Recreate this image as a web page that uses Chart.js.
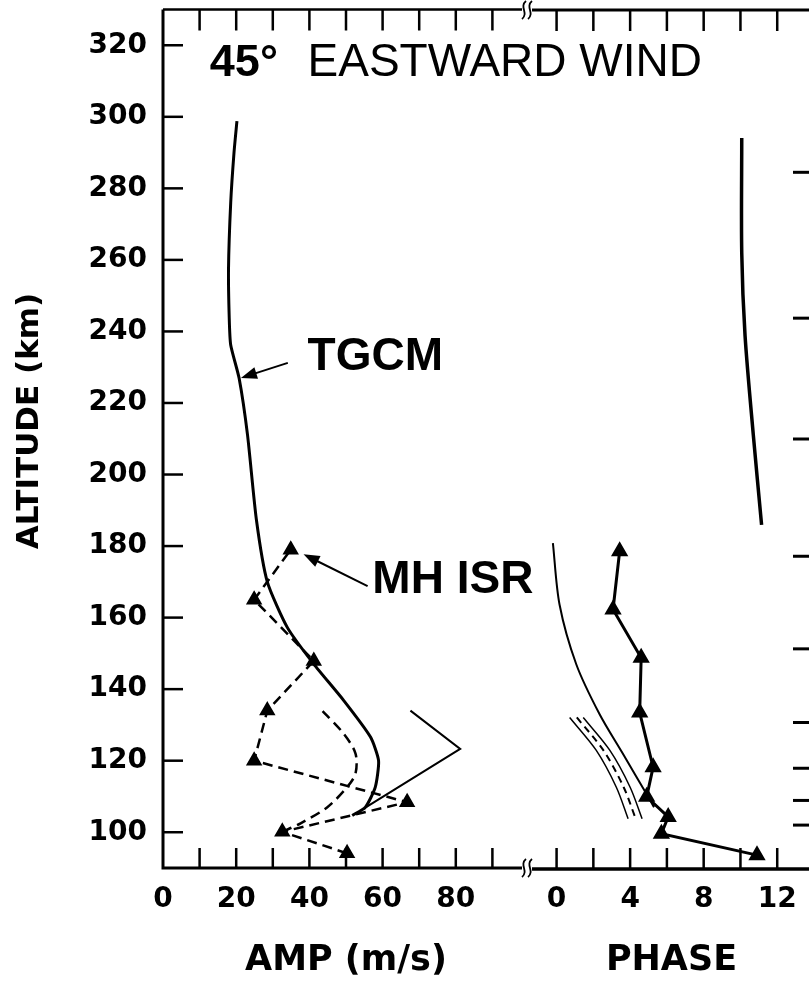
<!DOCTYPE html>
<html>
<head>
<meta charset="utf-8">
<script src="https://cdn.jsdelivr.net/npm/chart.js@4.4.1/dist/chart.umd.min.js"></script>
<style>
  html, body { margin: 0; padding: 0; background: #fff; width: 809px; height: 982px; overflow: hidden; }
  #left { position: absolute; left: 0; top: 0; }
  #right { position: absolute; left: 500px; top: 0; }
</style>
</head>
<body>
<canvas id="left" width="809" height="982"></canvas>
<canvas id="right" width="330" height="982"></canvas>
<script>
// axis ticks
const yTicks = [100, 120, 140, 160, 180, 200, 220, 240, 260, 280, 300, 320];
const ampTicks = [10, 20, 30, 40, 50, 60, 70, 80, 90];
const ampLabels = [0, 20, 40, 60, 80];
const phaseTicks = [0, 2, 4, 6, 8, 10, 12];
const phaseLabels = [0, 4, 8, 12];
const rightAltTicks = [102, 108.9, 117.9, 130.7, 151.3, 177.2, 210, 243.8, 284.6];

// AMP panel (m/s vs km)
const tgcmAmpAlt = [104.7, 107, 112.6, 120, 126.6, 136.8, 147, 157.2, 170, 187.5, 211, 226.9, 236.2, 243.6, 257.5, 276, 290, 298.8];
const tgcmAmp    = [51.7, 55.3, 58, 58.9, 56.7, 49.4, 41.2, 34, 28.5, 25.5, 23.1, 20.8, 18.5, 18.1, 17.9, 18.5, 19.4, 20.2];
const thinAmpAlt = [107, 123.3, 134];
const thinAmp    = [55.5, 81.2, 67.6];
const isrAmpAlt  = [94.1, 100.1, 108.4, 120, 134, 147.9, 165, 179];
const isrAmp     = [50.3, 32.6, 66.7, 24.9, 28.5, 41.2, 24.9, 34.9];
const dashAmpAlt = [100.1, 102.5, 107, 112.6, 116.4, 122, 127.5, 134];
const dashAmp    = [32.6, 37.6, 44.9, 50.3, 52.6, 52.6, 49.4, 43.5];

// PHASE panel
const isrPhaseAlt  = [93.6, 99.6, 104.3, 109.9, 118.2, 133.5, 148.8, 162.3, 178.6];
const isrPhase     = [10.9, 5.7, 6.07, 4.9, 5.25, 4.52, 4.6, 3.07, 3.43];
const tgcmPhaseAlt = [107, 109.9, 122, 133, 147, 163.7, 180.9];
const tgcmPhase    = [5.3, 4.98, 3.6, 2.34, 1.07, 0.16, -0.2];
const upperPhaseAlt = [186, 211.1, 238.9, 262.1, 294.2];
const upperPhase    = [11.15, 10.7, 10.25, 10.07, 10.07];
const bandAlt    = [132.1, 122.9, 112.6, 103.8];
const bandA      = [0.71, 2.16, 3.25, 3.89];
const bandDash   = [1.1, 2.55, 3.65, 4.3];
const bandB      = [1.45, 2.9, 4.0, 4.65];

const pts = (xs, ys) => xs.map((v, i) => ({ x: v, y: ys[i] }));

const tickFont = { family: 'DejaVu Sans', weight: 'bold', size: 28 };
const titleFont = { family: 'DejaVu Sans', weight: 'bold', size: 35 };

function arrow(ctx, x1, y1, x2, y2) {
  const ang = Math.atan2(y2 - y1, x2 - x1);
  ctx.lineWidth = 2;
  ctx.beginPath();
  ctx.moveTo(x1, y1);
  ctx.lineTo(x2 - 10 * Math.cos(ang), y2 - 10 * Math.sin(ang));
  ctx.stroke();
  ctx.beginPath();
  ctx.moveTo(x2, y2);
  ctx.lineTo(x2 - 16 * Math.cos(ang) + 6 * Math.sin(ang), y2 - 16 * Math.sin(ang) - 6 * Math.cos(ang));
  ctx.lineTo(x2 - 16 * Math.cos(ang) - 6 * Math.sin(ang), y2 - 16 * Math.sin(ang) + 6 * Math.cos(ang));
  ctx.closePath();
  ctx.fill();
}

const leftDecor = {
  id: 'leftDecor',
  afterDraw(chart) {
    const { ctx, chartArea: a, scales: { x, y } } = chart;
    ctx.save();
    ctx.strokeStyle = '#000';
    ctx.fillStyle = '#000';
    // frame
    ctx.lineWidth = 3;
    ctx.beginPath();
    ctx.moveTo(a.left, a.top);
    ctx.lineTo(a.left, a.bottom);
    ctx.lineTo(a.right, a.bottom);
    ctx.stroke();
    ctx.lineWidth = 2.5;
    ctx.beginPath();
    ctx.moveTo(a.left, a.top);
    ctx.lineTo(a.right, a.top);
    ctx.stroke();
    // inward ticks
    ctx.lineWidth = 2.5;
    ampTicks.forEach(v => {
      const px = x.getPixelForValue(v);
      ctx.beginPath();
      ctx.moveTo(px, a.bottom); ctx.lineTo(px, a.bottom - 20);
      ctx.moveTo(px, a.top); ctx.lineTo(px, a.top + 21);
      ctx.stroke();
    });
    yTicks.forEach(v => {
      const py = y.getPixelForValue(v);
      ctx.beginPath();
      ctx.moveTo(a.left, py); ctx.lineTo(a.left + 20, py);
      ctx.stroke();
    });
    // y title
    ctx.save();
    ctx.translate(30, 421);
    ctx.rotate(-Math.PI / 2);
    ctx.font = 'bold 31px "DejaVu Sans"';
    ctx.textAlign = 'center';
    ctx.textBaseline = 'middle';
    ctx.fillText('ALTITUDE (km)', 0, 0);
    ctx.restore();
    // title and labels
    ctx.textBaseline = 'alphabetic';
    ctx.textAlign = 'left';
    ctx.font = 'bold 45px "Liberation Sans"';
    ctx.fillText('45°', x.getPixelForValue(12.8), y.getPixelForValue(311.4));
    ctx.font = '46px "Liberation Sans"';
    ctx.fillText('EASTWARD WIND', x.getPixelForValue(39.5), y.getPixelForValue(311.4));
    ctx.font = 'bold 46px "Liberation Sans"';
    ctx.fillText('TGCM', x.getPixelForValue(39.5), y.getPixelForValue(229.3));
    ctx.fillText('MH ISR', x.getPixelForValue(57.2), y.getPixelForValue(166.9));
    arrow(ctx, x.getPixelForValue(34.1), y.getPixelForValue(231.2), x.getPixelForValue(21.3), y.getPixelForValue(227));
    arrow(ctx, x.getPixelForValue(55.9), y.getPixelForValue(168.8), x.getPixelForValue(38.4), y.getPixelForValue(177.7));
    ctx.restore();
  }
};

function brk(ctx, cx, cy) {
  ctx.fillStyle = '#fff';
  ctx.fillRect(cx - 5, cy - 3, 10, 6);
  ctx.strokeStyle = '#000';
  ctx.lineWidth = 1.8;
  [-3, 3].forEach(dx => {
    ctx.beginPath();
    ctx.moveTo(cx + dx - 2, cy + 9);
    ctx.bezierCurveTo(cx + dx + 5, cy + 3, cx + dx - 5, cy - 3, cx + dx + 2, cy - 9);
    ctx.stroke();
  });
}

const rightDecor = {
  id: 'rightDecor',
  afterDraw(chart) {
    const { ctx, chartArea: a, scales: { x, y } } = chart;
    ctx.save();
    ctx.strokeStyle = '#000';
    ctx.lineWidth = 3.5;
    ctx.beginPath();
    ctx.moveTo(a.left, a.bottom + 1); ctx.lineTo(a.right, a.bottom + 1);
    ctx.stroke();
    ctx.lineWidth = 3;
    ctx.beginPath();
    ctx.moveTo(a.left, a.top); ctx.lineTo(a.right, a.top);
    ctx.stroke();
    ctx.lineWidth = 2.5;
    phaseTicks.forEach(v => {
      const px = x.getPixelForValue(v);
      ctx.beginPath();
      ctx.moveTo(px, a.bottom); ctx.lineTo(px, a.bottom - 20);
      ctx.moveTo(px, a.top); ctx.lineTo(px, a.top + 21);
      ctx.stroke();
    });
    ctx.lineWidth = 3;
    rightAltTicks.forEach(v => {
      const py = y.getPixelForValue(v);
      ctx.beginPath();
      ctx.moveTo(a.right - 21, py); ctx.lineTo(a.right, py);
      ctx.stroke();
    });
    brk(ctx, a.left - 2, a.top);
    brk(ctx, a.left - 2, a.bottom);
    ctx.restore();
  }
};

const noPad = s => { s.paddingTop = 0; s.paddingBottom = 0; s.paddingLeft = 0; s.paddingRight = 0; };

const commonY = {
  type: 'linear', min: 90, max: 330,
  grid: { display: false, drawTicks: false }, border: { display: false },
  afterBuildTicks: s => { s.ticks = yTicks.map(v => ({ value: v })); }
};

new Chart(document.getElementById('left'), {
  type: 'scatter',
  data: {
    datasets: [
      { data: pts(tgcmAmp, tgcmAmpAlt), showLine: true, borderColor: '#000', borderWidth: 3, pointRadius: 0, tension: 0.2 },
      { data: pts(thinAmp, thinAmpAlt), showLine: true, borderColor: '#000', borderWidth: 2, pointRadius: 0 },
      { data: pts(dashAmp, dashAmpAlt), showLine: true, borderColor: '#000', borderWidth: 2.5, borderDash: [10, 6], pointRadius: 0, tension: 0.3 },
      { data: pts(isrAmp, isrAmpAlt), showLine: true, borderColor: '#000', borderWidth: 2.5, borderDash: [10, 6],
        pointStyle: 'triangle', pointRadius: 7, pointBackgroundColor: '#000', pointBorderColor: '#000' }
    ]
  },
  options: {
    responsive: false, animation: false,
    layout: { padding: { left: 0, right: 280, top: 6, bottom: 0 } },
    plugins: { legend: { display: false }, tooltip: { enabled: false } },
    scales: {
      x: {
        type: 'linear', min: 0, max: 100,
        grid: { display: false, drawTicks: false }, border: { display: false },
        afterBuildTicks: s => { s.ticks = ampLabels.map(v => ({ value: v })); },
        afterFit: s => { s.height = 114; noPad(s); },
        ticks: { color: '#000', font: tickFont, padding: 15, maxRotation: 0 },
        title: { display: true, text: 'AMP (m/s)', color: '#000', font: titleFont, padding: { top: 0, bottom: 0 } }
      },
      y: Object.assign({}, commonY, {
        afterFit: s => { s.width = 163; noPad(s); },
        ticks: { color: '#000', font: tickFont, padding: 16 }
      })
    }
  },
  plugins: [leftDecor]
});

new Chart(document.getElementById('right'), {
  type: 'scatter',
  data: {
    datasets: [
      { data: pts(isrPhase, isrPhaseAlt), showLine: true, borderColor: '#000', borderWidth: 3,
        pointStyle: 'triangle', pointRadius: 7, pointBackgroundColor: '#000', pointBorderColor: '#000' },
      { data: pts(tgcmPhase, tgcmPhaseAlt), showLine: true, borderColor: '#000', borderWidth: 2, pointRadius: 0, tension: 0.3 },
      { data: pts(upperPhase, upperPhaseAlt), showLine: true, borderColor: '#000', borderWidth: 3.5, pointRadius: 0, tension: 0.3 },
      { data: pts(bandA, bandAlt), showLine: true, borderColor: '#000', borderWidth: 1.5, pointRadius: 0, tension: 0.3 },
      { data: pts(bandDash, bandAlt), showLine: true, borderColor: '#000', borderWidth: 2, borderDash: [7, 5], pointRadius: 0, tension: 0.3 },
      { data: pts(bandB, bandAlt), showLine: true, borderColor: '#000', borderWidth: 1.5, pointRadius: 0, tension: 0.3 }
    ]
  },
  options: {
    responsive: false, animation: false,
    layout: { padding: { left: 29, right: 16, top: 6, bottom: 0 } },
    plugins: { legend: { display: false }, tooltip: { enabled: false } },
    scales: {
      x: {
        type: 'linear', min: -1.5, max: 14,
        grid: { display: false, drawTicks: false }, border: { display: false },
        afterBuildTicks: s => { s.ticks = phaseLabels.map(v => ({ value: v })); },
        afterFit: s => { s.height = 114; noPad(s); },
        ticks: { color: '#000', font: tickFont, padding: 15, maxRotation: 0 },
        title: { display: true, text: 'PHASE', color: '#000', font: titleFont, padding: { top: 0, bottom: 0 } }
      },
      y: Object.assign({}, commonY, { display: false })
    }
  },
  plugins: [rightDecor]
});
</script>
</body>
</html>
